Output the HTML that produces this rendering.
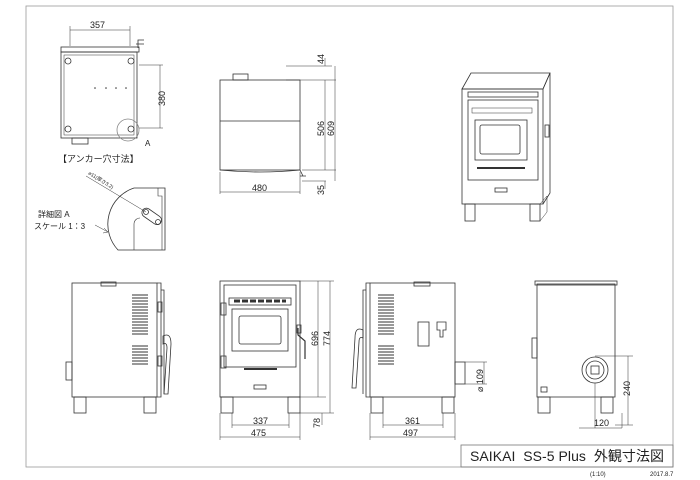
<!DOCTYPE html>
<html><head><meta charset="utf-8"><style>
html,body{margin:0;padding:0;background:#fff;}
svg{display:block;}
text{font-family:"Liberation Sans","Noto Sans CJK JP",sans-serif;fill:#222;}
</style></head><body>
<svg width="700" height="480" viewBox="0 0 700 480" xmlns="http://www.w3.org/2000/svg">
<g fill="none" stroke="#333" stroke-width="0.8">
<rect x="26" y="6" width="647" height="461" stroke="#999"/>
<rect x="461" y="445" width="212" height="22" stroke="#777"/>

<rect x="61" y="47" width="78" height="5" />
<rect x="61" y="52" width="76" height="86" />
<rect x="64" y="55" width="70" height="80" stroke-width="0.5"/>
<path d="M138 48 v-8 h6 M136 44 h8"/>
<rect x="72" y="138" width="16" height="6"/>
<circle cx="68" cy="61" r="3"/><circle cx="131" cy="61" r="3"/>
<circle cx="68" cy="129" r="3"/><circle cx="131" cy="129" r="3"/>
<circle cx="128" cy="130" r="11" stroke="#888"/>
<path d="M70 30 h60 M70 26 v20 M130 26 v20" stroke-width="0.5"/>
<path d="M160 65 v63 M139 65 h24 M139 128 h24" stroke-width="0.5"/>

<path d="M118 250 A38 38 0 0 1 134 188 H165 V250 Z"/>
<path d="M158 188 v8 h4 v54 M134 250 v-26 a6 6 0 0 1 6 -6" stroke-width="0.6"/>
<rect x="141" y="212" width="22" height="9" rx="4.5" transform="rotate(35 152 216)"/>
<circle cx="146" cy="212" r="2.5"/><circle cx="158" cy="222" r="2.5"/>
<path d="M86 176 L146 212" stroke-width="0.5"/>
<path d="M95 225 L108 232 M104 228 l4 4 l-5 1" stroke-width="0.5"/>

<rect x="220" y="80" width="80" height="90"/>
<path d="M220 121 h80"/>
<rect x="233" y="74" width="15" height="6"/>
<path d="M220 170 q40 4 80 0 M300 170 l3 6 M300 176 h6"/>
<path d="M220 172 v22 M300 172 v22 M220 192 h80" stroke-width="0.5"/>
<path d="M286 66 h46 M286 80 h50 M302 170 h34 M302 181 h24" stroke-width="0.5"/>
<path d="M325 58 v8 M325 80 v90 M325 181 v8 M335 66 v115" stroke-width="0.5"/>

<path d="M462 89 L471 73 H550 L543 89 Z"/>
<rect x="462" y="89" width="81" height="115"/>
<path d="M543 89 L550 73 V193 L543 204"/>
<rect x="468" y="92" width="70" height="5"/>
<rect x="468" y="100" width="70" height="80"/>
<rect x="472" y="108" width="60" height="5" stroke-width="0.5"/>
<rect x="475" y="120" width="52" height="40"/>
<rect x="480" y="125" width="40" height="29" rx="2"/>
<path d="M477 168 h48" stroke-width="2"/>
<rect x="495" y="188" width="12" height="4"/>
<rect x="465" y="204" width="10" height="17"/>
<rect x="530" y="204" width="10" height="17"/>
<path d="M540 204 L547 196 V212 L540 221" stroke-width="0.5"/>
<rect x="545" y="125" width="4" height="12"/>

<rect x="72" y="283" width="85" height="114"/>
<rect x="101" y="282" width="15" height="4"/>
<path d="M157 283 h4 v114 h-4 M161 290 h3 v104"/>
<rect x="66" y="362" width="6" height="18"/>
<rect x="74" y="397" width="12" height="16"/><rect x="144" y="397" width="12" height="16"/>
<path d="M163 336 q8 -4 8 8 l-3 50 l-4 0 l3 -46 q0 -6 -4 -4 z"/>
<rect x="158" y="302" width="4" height="10"/><rect x="158" y="356" width="4" height="10"/>

<rect x="220" y="281" width="80" height="116"/>
<rect x="224" y="285" width="72" height="82"/>
<rect x="229" y="298" width="62" height="7"/>
<rect x="232" y="309" width="56" height="42"/>
<rect x="239" y="316" width="42" height="28" rx="2"/>
<rect x="221" y="303" width="5" height="12"/><rect x="221" y="356" width="5" height="12"/>
<path d="M298 328 v7 l7 6 v18" stroke-width="1.2"/>
<rect x="297" y="325" width="4" height="8"/>
<rect x="221" y="397" width="12" height="16"/><rect x="288" y="397" width="12" height="16"/>
<path d="M300 281 h34 M300 397 h26 M300 413 h34" stroke-width="0.5"/>
<path d="M318 281 v116 M330 281 v132 M322 413 v12" stroke-width="0.5"/>
<path d="M232 413 v15 M289 413 v15 M232 425 h57 M220 413 v27 M300 413 v27 M220 437 h80" stroke-width="0.5"/>

<rect x="370" y="283" width="85" height="114"/>
<rect x="414" y="282" width="16" height="4"/>
<path d="M370 283 h-4 v114 h4 M366 290 h-3 v104"/>
<path d="M363 330 q-8 -4 -8 8 l-3 50 l4 0 l3 -46 q0 -6 4 -4 z"/>
<rect x="455" y="362" width="10" height="22"/>
<rect x="418" y="322" width="11" height="24"/>
<path d="M437 322 h9 v8 h-3 v7 h-3 v-7 h-3 z"/>
<rect x="371" y="397" width="12" height="16"/><rect x="442" y="397" width="12" height="16"/>
<path d="M465 362 h22 M465 384 h22 M484 362 v22" stroke-width="0.5"/>
<path d="M383 413 v15 M443 413 v15 M383 425 h60 M370 413 v27 M455 413 v27 M370 437 h85" stroke-width="0.5"/>

<rect x="537" y="284" width="78" height="113"/>
<rect x="535" y="281" width="82" height="4"/>
<rect x="532" y="338" width="5" height="20"/>
<circle cx="595" cy="370" r="13"/><circle cx="595" cy="370" r="9"/>
<rect x="591" y="366" width="8" height="8"/>
<rect x="541" y="387" width="6" height="5"/>
<rect x="538" y="397" width="12" height="16"/><rect x="601" y="397" width="12" height="16"/>
<path d="M595 356 h38 M615 425 h18 M628 356 v69 M595 383 v45 M622 413 v15 M579 428 h43" stroke-width="0.5"/>
</g>
<g fill="#333">
<circle cx="95" cy="88" r="0.8"/><circle cx="106" cy="88" r="0.8"/><circle cx="116" cy="88" r="0.8"/><circle cx="126" cy="88" r="0.8"/>
</g>
<g stroke="#333" stroke-width="1">
<path d="M132 295h16M132 298h16M132 301h16M132 304h16M132 307h16M132 310h16M132 313h16M132 316h16M132 319h16M132 322h16M132 325h16M132 328h16M132 331h16M132 334h16"/>
<path d="M132 346h16M132 349h16M132 352h16M132 355h16M132 358h16M132 361h16M132 364h16"/>
<path d="M378 295h16M378 298h16M378 301h16M378 304h16M378 307h16M378 310h16M378 313h16M378 316h16M378 319h16M378 322h16M378 325h16M378 328h16M378 331h16M378 334h16"/>
<path d="M378 346h16M378 349h16M378 352h16M378 355h16M378 358h16M378 361h16M378 364h16"/>
<path d="M234 301h52" stroke-dasharray="6 2" stroke-width="3"/>
<path d="M244 369h33" stroke-width="2"/>
<rect x="254" y="385" width="12" height="4" fill="none" stroke-width="0.8"/>
</g>
<g font-size="9">
<text x="90" y="28">357</text>
<text x="157" y="98" transform="rotate(-90 157 98) translate(-8 8)">380</text>
<text x="145" y="146" font-size="8">A</text>
<text x="58" y="162" font-size="9">【アンカー穴寸法】</text>
<text x="38" y="217" font-size="8">詳細図 A</text>
<text x="34" y="229" font-size="8">スケール 1：3</text>
<text x="88" y="174" font-size="5" transform="rotate(32 88 174)">⌀11(厚さ3.2)</text>
<text x="252" y="191">480</text>
<text x="324" y="64" transform="rotate(-90 324 64)">44</text>
<text x="324" y="136" transform="rotate(-90 324 136)">506</text>
<text x="334" y="136" transform="rotate(-90 334 136)">609</text>
<text x="324" y="195" transform="rotate(-90 324 195)">35</text>
<text x="318" y="346" transform="rotate(-90 318 346)">696</text>
<text x="330" y="346" transform="rotate(-90 330 346)">774</text>
<text x="320" y="428" transform="rotate(-90 320 428)">78</text>
<text x="253" y="424">337</text>
<text x="251" y="436">475</text>
<text x="405" y="424">361</text>
<text x="403" y="436">497</text>
<text x="483" y="392" transform="rotate(-90 483 392)">⌀ 109</text>
<text x="630" y="396" transform="rotate(-90 630 396)">240</text>
<text x="594" y="426">120</text>
<text x="470" y="461" font-size="14" fill="#111" xml:space="preserve" textLength="194" lengthAdjust="spacing">SAIKAI  SS-5 Plus  外観寸法図</text>
<text x="590" y="476" font-size="6">(1:10)</text>
<text x="650" y="476" font-size="6">2017.8.7</text>
</g>
</svg>
</body></html>
